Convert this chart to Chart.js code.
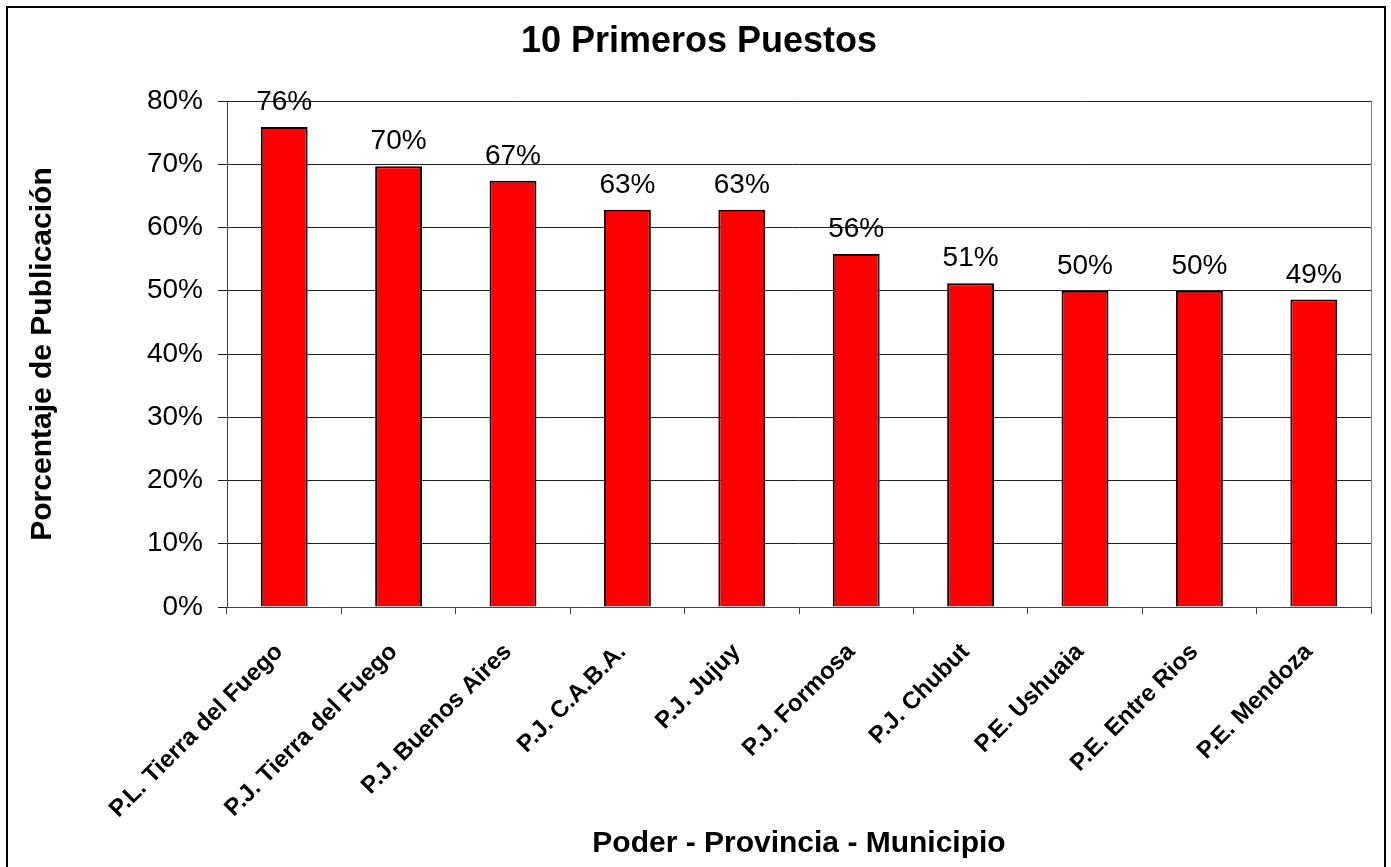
<!DOCTYPE html>
<html>
<head>
<meta charset="utf-8">
<script src="https://cdn.jsdelivr.net/npm/chart.js@4.4.1/dist/chart.umd.min.js"></script>
<style>
  html, body { margin: 0; padding: 0; background: #fff; }
  #wrap { width: 1391px; height: 867px; }
</style>
</head>
<body>
<div id="wrap"><canvas id="c" width="1391" height="867"></canvas></div>
<script>
const categories = [
  "P.L. Tierra del Fuego",
  "P.J. Tierra del Fuego",
  "P.J. Buenos Aires",
  "P.J. C.A.B.A.",
  "P.J. Jujuy",
  "P.J. Formosa",
  "P.J. Chubut",
  "P.E. Ushuaia",
  "P.E. Entre Rios",
  "P.E. Mendoza"
];
const values = [75.9, 69.7, 67.4, 62.8, 62.8, 55.8, 51.2, 50.0, 50.0, 48.6];
const yTicks = [0, 10, 20, 30, 40, 50, 60, 70, 80];
const chartTitle = "10 Primeros Puestos";
const xTitle = "Poder - Provincia - Municipio";
const yTitle = "Porcentaje de Publicación";

const FONT = "'Liberation Sans', Arial, Helvetica, sans-serif";

const decor = {
  id: 'decor',
  afterDraw(chart) {
    const ctx = chart.ctx;
    const a = chart.chartArea;
    ctx.save();
    // plot area right border
    ctx.strokeStyle = '#808080';
    ctx.lineWidth = 1;
    ctx.beginPath();
    ctx.moveTo(Math.round(a.right) + 0.5, a.top);
    ctx.lineTo(Math.round(a.right) + 0.5, a.bottom);
    ctx.stroke();
    // outer border
    ctx.strokeStyle = '#000';
    ctx.lineWidth = 2;
    ctx.strokeRect(7, 7, 1378, 870);
    // data labels
    const meta = chart.getDatasetMeta(0);
    ctx.fillStyle = '#000';
    ctx.font = "28px " + FONT;
    ctx.textAlign = 'center';
    ctx.textBaseline = 'alphabetic';
    meta.data.forEach((bar, i) => {
      ctx.fillText(Math.round(values[i]) + '%', bar.x, bar.y - 17);
    });
    // chart title
    ctx.font = "bold 36px " + FONT;
    ctx.fillText(chartTitle, 699, 52);
    // x title
    ctx.font = "bold 30px " + FONT;
    ctx.fillText(xTitle, (a.left + a.right) / 2, 852);
    // y title
    ctx.translate(51, (a.top + a.bottom) / 2);
    ctx.rotate(-Math.PI / 2);
    ctx.font = "bold 30px " + FONT;
    ctx.fillText(yTitle, 0, 0);
    ctx.restore();
  }
};

new Chart(document.getElementById('c'), {
  type: 'bar',
  data: {
    labels: categories,
    datasets: [{
      data: values,
      backgroundColor: '#FF0000',
      borderColor: '#000000',
      borderWidth: 2,
      barPercentage: 0.41,
      categoryPercentage: 1.0
    }]
  },
  options: {
    responsive: false,
    animation: false,
    devicePixelRatio: 1,
    layout: { padding: { left: 8, right: 20, top: 101, bottom: 0 } },
    plugins: {
      legend: { display: false },
      tooltip: { enabled: false },
      title: { display: false }
    },
    scales: {
      x: {
        grid: {
          offset: true,
          drawOnChartArea: false,
          drawTicks: true,
          tickLength: 7,
          color: '#444'
        },
        border: { display: true, color: '#444', width: 1 },
        ticks: {
          autoSkip: false,
          maxRotation: 45,
          minRotation: 45,
          padding: 24,
          labelOffset: -5,
          color: '#000',
          font: { family: FONT, size: 24, weight: 'bold' }
        },
        afterFit(scale) { scale.height = 260; }
      },
      y: {
        min: 0,
        max: 80,
        afterBuildTicks(scale) { scale.ticks = yTicks.map(v => ({ value: v })); },
        ticks: {
          callback: v => v + '%',
          color: '#000',
          padding: 15,
          font: { family: FONT, size: 28 }
        },
        grid: {
          color: '#222',
          lineWidth: 1,
          tickLength: 9,
          drawTicks: true
        },
        border: { display: true, color: '#444', width: 1 },
        afterFit(scale) { scale.width = 219; }
      }
    }
  },
  plugins: [decor]
});
</script>
</body>
</html>
